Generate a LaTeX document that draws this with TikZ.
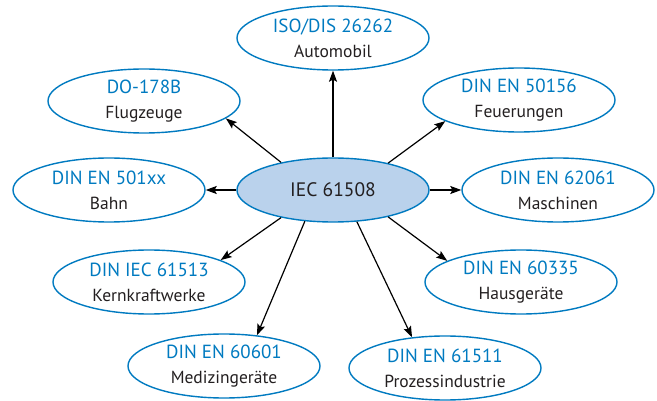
\documentclass[tikz,border=0pt]{standalone}
\usepackage{fontspec}
\setmainfont{PT Sans}
\usetikzlibrary{shapes.geometric,arrows.meta}
\definecolor{normblue}{RGB}{0,122,192}
\definecolor{corefill}{RGB}{186,210,236}
\definecolor{inktext}{RGB}{35,31,32}
\newcommand{\normtitle}[1]{{\color{normblue}\fontsize{19}{25}\selectfont #1}}

\begin{document}
\begin{tikzpicture}[x=1pt,y=-1pt,
  norm node/.style={ellipse,draw=normblue,line width=1.4pt,minimum width=192pt,minimum height=64pt,
    inner sep=0pt,align=center,text=inktext,font=\fontsize{17.5}{25}\selectfont},
  core node/.style={norm node,fill=corefill,font=\fontsize{19.5}{25}\selectfont}]
  \useasboundingbox (0,0) rectangle (657,401);

  \node[core node] (iec) at (333,190) {IEC 61508};

  \node[norm node] (iso)   at (333,38)  {\normtitle{ISO/DIS 26262}\\Automobil};
  \node[norm node] (do)    at (144,101) {\normtitle{DO-178B}\\Flugzeuge};
  \node[norm node] (feu)   at (519,100) {\normtitle{DIN EN 50156}\\Feuerungen};
  \node[norm node] (bahn)  at (109,190) {\normtitle{DIN EN 501xx}\\Bahn};
  \node[norm node] (masch) at (558,190) {\normtitle{DIN EN 62061}\\Maschinen};
  \node[norm node] (kern)  at (149,282) {\normtitle{DIN IEC 61513}\\Kernkraftwerke};
  \node[norm node] (haus)  at (521,282) {\normtitle{DIN EN 60335}\\Hausgeräte};
  \node[norm node] (med)   at (224,366) {\normtitle{DIN EN 60601}\\Medizingeräte};
  \node[norm node] (proz)  at (445,368) {\normtitle{DIN EN 61511}\\Prozessindustrie};

  \path[line width=1.2pt, -{Stealth[length=11pt,width=8pt,inset=2pt]}]
    (iec.north) edge (iso.south)
    (iec.152) edge (do.-12)
    (iec.26) edge (feu.-164)
    (iec.west) edge (bahn.east)
    (iec.east) edge (masch.west)
    (iec.208) edge (kern.17)
    (iec.-26) edge (haus.164)
    (iec.228) edge (med.43)
    (iec.-53) edge (proz.137);
\end{tikzpicture}
\end{document}
